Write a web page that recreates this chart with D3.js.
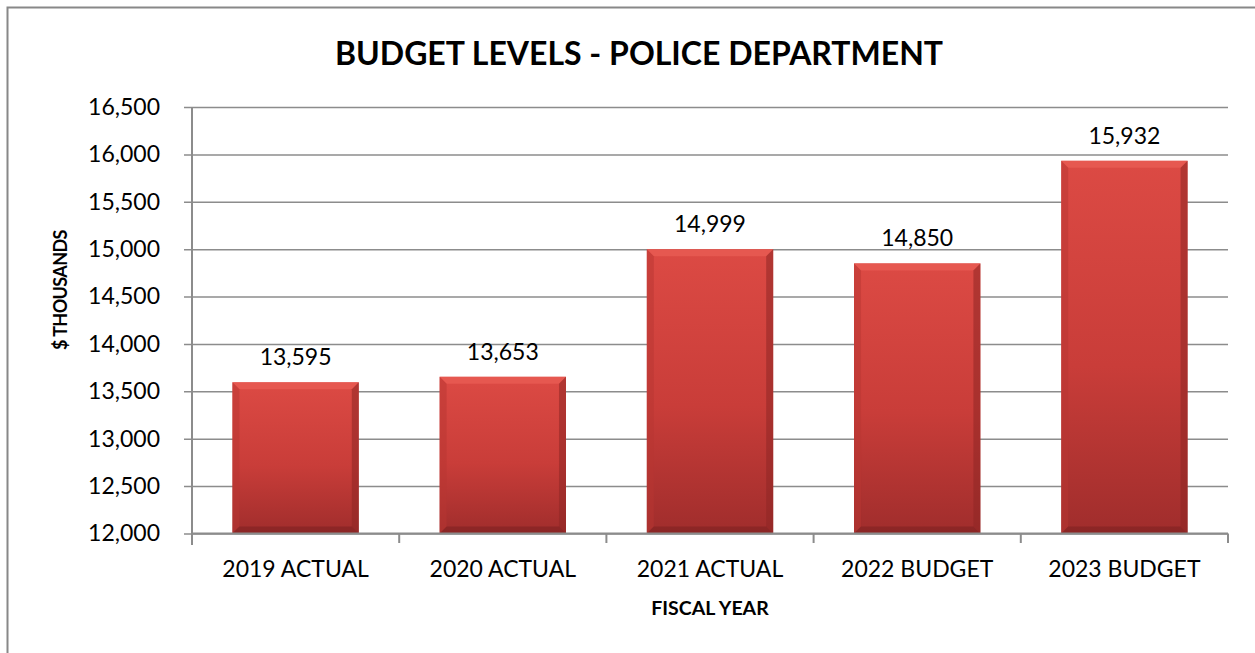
<!DOCTYPE html>
<html>
<head>
<meta charset="utf-8">
<script src="https://cdn.jsdelivr.net/npm/d3@7"></script>
<style>
  body { margin: 0; background: #fff; }
  svg { display: block; font-family: Lato, "Open Sans", sans-serif; }
</style>
</head>
<body>
<div id="chart"></div>
<script>
var years = ["2019 ACTUAL", "2020 ACTUAL", "2021 ACTUAL", "2022 BUDGET", "2023 BUDGET"];
var budget = [13595, 13653, 14999, 14850, 15932];
var yTicks = [12000, 12500, 13000, 13500, 14000, 14500, 15000, 15500, 16000, 16500];

var width = 1255, height = 653;
var margin = {left: 192, right: 27, top: 107, bottom: 120};
var innerWidth = width - margin.right;
var innerHeight = height - margin.bottom;

function init() {
  var svg = d3.select('#chart')
              .append('svg')
              .attr('width', width)
              .attr('height', height);

  // bar gradients
  var defs = svg.append('defs');
  var grad = defs.append('linearGradient')
                 .attr('id', 'barFill')
                 .attr('x1', 0).attr('y1', 0).attr('x2', 0).attr('y2', 1);
  grad.append('stop').attr('offset', '0%').attr('stop-color', '#dc4a44');
  grad.append('stop').attr('offset', '55%').attr('stop-color', '#c93d39');
  grad.append('stop').attr('offset', '100%').attr('stop-color', '#a02d2c');

  // outer frame
  svg.append('rect')
     .attr('x', 7.5).attr('y', 7.5)
     .attr('width', width + 20).attr('height', height + 20)
     .attr('fill', 'none')
     .attr('stroke', '#888')
     .attr('stroke-width', 2);

  var xScale = d3.scaleBand()
                 .domain(years)
                 .range([margin.left, innerWidth])
                 .paddingInner(0.39)
                 .paddingOuter(0.195);
  var yScale = d3.scaleLinear()
                 .domain([12000, 16500])
                 .range([533.5, margin.top]);

  // gridlines + y axis
  var yAxis = svg.append('g')
     .attr('transform', `translate(${margin.left},0)`)
     .call(d3.axisLeft(yScale)
             .tickValues(yTicks)
             .tickSize(-(innerWidth - margin.left))
             .tickSizeOuter(0)
             .tickFormat(d3.format(',')));
  yAxis.select('.domain').remove();
  yAxis.selectAll('.tick line')
       .attr('x1', -8)
       .attr('stroke', '#8c8c8c')
       .attr('stroke-width', 1.5);
  yAxis.selectAll('.tick text')
       .attr('x', -32)
       .attr('font-size', 23)
       .attr('font-family', 'Lato, sans-serif')
       .attr('fill', '#000');

  svg.append('line')
     .attr('x1', margin.left).attr('x2', margin.left)
     .attr('y1', margin.top).attr('y2', 545)
     .attr('stroke', '#8c8c8c').attr('stroke-width', 2);

  // bars
  var bars = svg.append('g')
     .selectAll('g')
     .data(budget)
     .join('g');

  bars.append('rect')
      .attr('x', (d, i) => xScale(years[i]))
      .attr('y', d => yScale(d))
      .attr('width', xScale.bandwidth())
      .attr('height', d => yScale(12000) - yScale(d))
      .attr('fill', 'url(#barFill)');

  // bevel: light top edge, dark right edge, shaded left edge
  var bev = 7;
  bars.append('path')
      .attr('fill', '#e85a52')
      .attr('opacity', 0.85)
      .attr('d', (d, i) => {
        var x0 = xScale(years[i]), x1 = x0 + xScale.bandwidth(), y0 = yScale(d);
        return `M${x0},${y0}L${x1},${y0}L${x1 - bev},${y0 + bev}L${x0 + bev},${y0 + bev}Z`;
      });
  bars.append('path')
      .attr('fill', '#8e2625')
      .attr('opacity', 0.55)
      .attr('d', (d, i) => {
        var x0 = xScale(years[i]), x1 = x0 + xScale.bandwidth(), y0 = yScale(d), y1 = yScale(12000);
        return `M${x1},${y0}L${x1},${y1}L${x1 - bev},${y1 - bev}L${x1 - bev},${y0 + bev}Z`;
      });
  bars.append('path')
      .attr('fill', '#b83532')
      .attr('opacity', 0.5)
      .attr('d', (d, i) => {
        var x0 = xScale(years[i]), y0 = yScale(d), y1 = yScale(12000);
        return `M${x0},${y0}L${x0 + bev},${y0 + bev}L${x0 + bev},${y1 - bev}L${x0},${y1}Z`;
      });
  bars.append('path')
      .attr('fill', '#7e2222')
      .attr('opacity', 0.6)
      .attr('d', (d, i) => {
        var x0 = xScale(years[i]), x1 = x0 + xScale.bandwidth(), y1 = yScale(12000);
        return `M${x0},${y1}L${x0 + bev},${y1 - bev}L${x1 - bev},${y1 - bev}L${x1},${y1}Z`;
      });

  // value labels
  bars.append('text')
      .attr('x', (d, i) => xScale(years[i]) + xScale.bandwidth() / 2)
      .attr('y', d => yScale(d) - 17)
      .attr('text-anchor', 'middle')
      .attr('font-size', 23)
      .text(d => d3.format(',')(d));

  // x axis
  svg.append('line')
     .attr('x1', margin.left).attr('x2', innerWidth)
     .attr('y1', 533.5).attr('y2', 533.5)
     .attr('stroke', '#8c8c8c').attr('stroke-width', 2);
  var step = xScale.step();
  var boundaries = d3.range(years.length + 1).map(i => margin.left + i * step);
  svg.append('g')
     .selectAll('line')
     .data(boundaries)
     .join('line')
     .attr('x1', d => d).attr('x2', d => d)
     .attr('y1', 533.5).attr('y2', 543)
     .attr('stroke', '#8c8c8c').attr('stroke-width', 2);

  svg.append('g')
     .selectAll('text')
     .data(years)
     .join('text')
     .attr('x', d => xScale(d) + xScale.bandwidth() / 2)
     .attr('y', 577)
     .attr('text-anchor', 'middle')
     .attr('font-size', 23)
     .text(d => d);

  // titles
  svg.append('text')
     .attr('x', 639).attr('y', 65)
     .attr('text-anchor', 'middle')
     .attr('font-size', 32)
     .attr('font-weight', 'bold')
     .text('BUDGET LEVELS - POLICE DEPARTMENT');

  svg.append('text')
     .attr('x', 710).attr('y', 615)
     .attr('text-anchor', 'middle')
     .attr('font-size', 19.5)
     .attr('font-weight', 'bold')
     .text('FISCAL YEAR');

  svg.append('text')
     .attr('transform', 'translate(67,290) rotate(-90)')
     .attr('text-anchor', 'middle')
     .attr('font-size', 18)
     .attr('font-weight', 'bold')
     .attr('letter-spacing', -0.6)
     .text('$ THOUSANDS');
}

window.onload = init;
</script>
</body>
</html>
